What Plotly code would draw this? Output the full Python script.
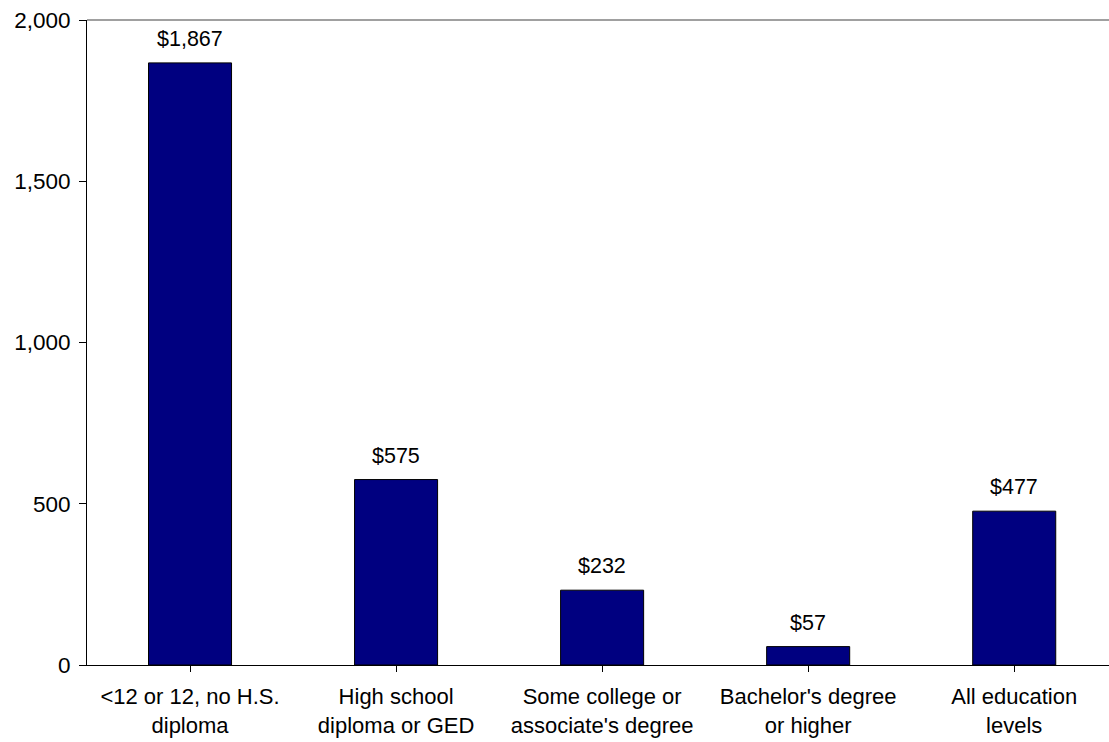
import plotly.graph_objects as go

categories = ["<12 or 12, no H.S.<br>diploma", "High school<br>diploma or GED",
              "Some college or<br>associate's degree", "Bachelor's degree<br>or higher",
              "All education<br>levels"]
values = [1867, 575, 232, 57, 477]
y_ticks = [0, 500, 1000, 1500, 2000]
y_tick_labels = ["0", "500", "1,000", "1,500", "2,000"]

FONT = "Liberation Sans, Arial, sans-serif"

fig = go.Figure()
fig.add_trace(go.Bar(
    x=list(range(len(categories))), y=values,
    marker=dict(color="#000080", line=dict(color="black", width=1)),
    hoverinfo="skip",
))

for i, v in enumerate(values):
    fig.add_annotation(x=i, y=v, text=f"${v:,}", showarrow=False,
                       yanchor="bottom", yshift=10,
                       font=dict(family=FONT, size=21.5, color="black"))

fig.add_shape(type="line", xref="paper", yref="paper", x0=0, x1=1, y0=1, y1=1,
              line=dict(color="#808080", width=1.5))

fig.update_layout(
    width=1109, height=742,
    margin=dict(l=87, r=0, t=20, b=77),
    paper_bgcolor="white", plot_bgcolor="white",
    bargap=0.597, showlegend=False,
    font=dict(family=FONT, size=21, color="black"),
)
fig.update_xaxes(
    range=[-0.5, 4.46], tickmode="array", tickvals=list(range(len(categories))),
    ticktext=categories, tickson="boundaries", ticks="outside", ticklen=6,
    tickcolor="black", showline=True, linecolor="black", linewidth=1,
    showgrid=False, zeroline=False, tickfont=dict(size=22), ticklabelstandoff=6,
    ticklabeloverflow="allow", automargin=False,
)
fig.update_yaxes(
    range=[0, 2000], tickmode="array", tickvals=y_ticks, ticktext=y_tick_labels,
    ticks="outside", ticklen=7, tickcolor="black", showline=True,
    linecolor="black", linewidth=1, showgrid=False, zeroline=False,
    tickfont=dict(size=22.5), ticklabelstandoff=4, ticklabeloverflow="allow",
    automargin=False,
)

fig.write_html(
    "out.html",
    config={"displayModeBar": False},
    post_script="document.body.style.margin='0';document.body.style.overflow='hidden';",
)
